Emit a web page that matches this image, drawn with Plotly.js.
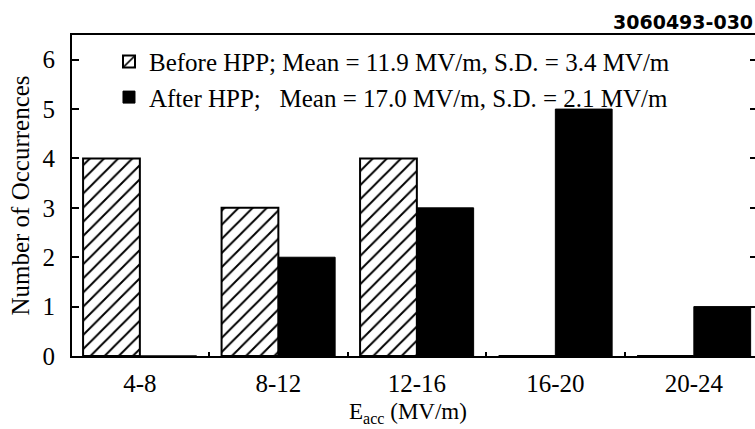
<!DOCTYPE html>
<html>
<head>
<meta charset="utf-8">
<script src="https://cdn.plot.ly/plotly-3.0.1.min.js"></script>
<style>
html,body{margin:0;padding:0;overflow:hidden;background:#fff;}
#chart{width:760px;height:429px;}
</style>
</head>
<body>
<div id="chart"></div>
<script>
var categories = ['4-8', '8-12', '12-16', '16-20', '20-24'];
var beforeCounts = [4, 3, 4, 0, 0];
var afterCounts = [0, 2, 3, 5, 1];
var beforeName = 'Before HPP; Mean = 11.9 MV/m, S.D. = 3.4 MV/m';
var afterName = 'After HPP;\u00A0\u00A0\u00A0Mean = 17.0 MV/m, S.D. = 2.1 MV/m';
var yTicks = [0, 1, 2, 3, 4, 5, 6];
var figId = '3060493-030';
var xTitle = 'E<sub>acc</sub> (MV/m)';

var serif = 'Liberation Serif, Times New Roman, serif';
var fs = 25;

var traces = [
  {
    type: 'bar', x: categories, y: beforeCounts, name: beforeName,
    marker: {
      color: 'white',
      line: {color: 'black', width: 2},
      pattern: {shape: '/', size: 10, solidity: 0.2, fgcolor: 'black', bgcolor: 'white'}
    },
    hoverinfo: 'skip'
  },
  {
    type: 'bar', x: categories, y: afterCounts, name: afterName,
    marker: {color: 'black', line: {color: 'black', width: 1}},
    hoverinfo: 'skip'
  }
];

var layout = {
  width: 760, height: 429,
  margin: {l: 72, r: 3, t: 35, b: 73},
  paper_bgcolor: 'white', plot_bgcolor: 'white',
  barmode: 'group', bargap: 0.18, bargroupgap: 0,
  font: {family: serif, size: fs, color: 'black'},
  showlegend: true,
  legend: {
    x: 0.054, y: 0.988, xanchor: 'left', yanchor: 'top',
    bgcolor: 'rgba(0,0,0,0)', font: {family: serif, size: fs, color: 'black'},
    tracegroupgap: 0
  },
  xaxis: {
    type: 'category', range: [-0.49, 4.456],
    showline: true, linecolor: 'black', linewidth: 2, mirror: true,
    ticks: 'inside', tickson: 'boundaries', ticklen: 4, tickcolor: 'black', tickwidth: 2,
    showgrid: false, zeroline: false,
    tickfont: {family: serif, size: fs, color: 'black'},
    ticklabelstandoff: 4
  },
  yaxis: {
    range: [0, 6.5], tickvals: yTicks,
    showline: true, linecolor: 'black', linewidth: 2, mirror: 'ticks',
    ticks: 'inside', ticklen: 7, tickcolor: 'black', tickwidth: 2,
    showgrid: false, zeroline: false,
    tickfont: {family: serif, size: fs, color: 'black'},
    ticklabelstandoff: 10,
    title: {text: 'Number of Occurrences', font: {family: serif, size: fs, color: 'black'}, standoff: 6}
  },
  annotations: [
    {text: '<b>' + figId + '</b>', xref: 'paper', yref: 'paper', x: 0.997, y: 1.0,
     xanchor: 'right', yanchor: 'bottom', yshift: 0, showarrow: false,
     font: {family: 'DejaVu Sans, sans-serif', size: 19, color: 'black'}},
    {text: xTitle, xref: 'paper', yref: 'paper', x: 0.49, y: 0, yshift: -73,
     xanchor: 'center', yanchor: 'bottom', showarrow: false,
     font: {family: serif, size: 23, color: 'black'}}
  ]
};

Plotly.newPlot('chart', traces, layout, {displayModeBar: false, staticPlot: true});
</script>
</body>
</html>
